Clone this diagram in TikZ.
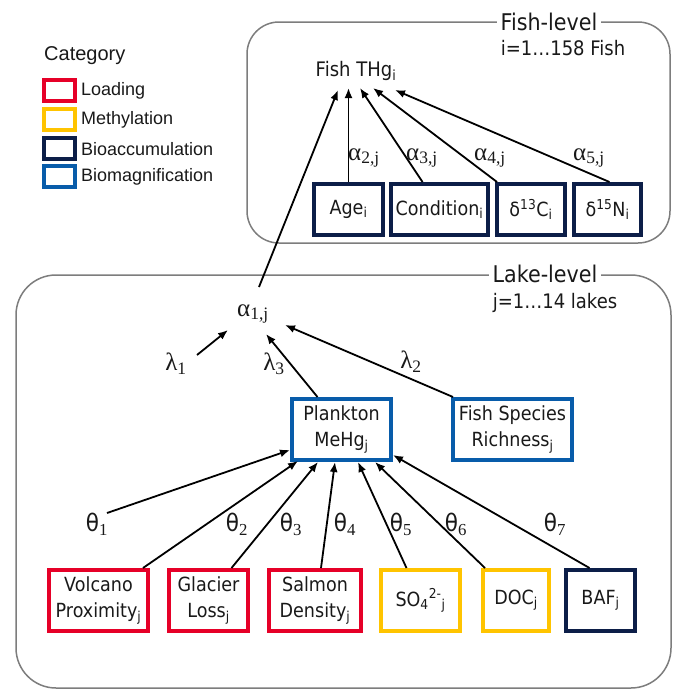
\documentclass[tikz,border=0pt]{standalone}
\usepackage{fontspec}
\setmainfont[FakeStretch=0.9]{DejaVu Sans}
\newfontfamily\legfont{Liberation Sans}
\newfontfamily\grk{Liberation Serif}
\usetikzlibrary{arrows.meta}
\definecolor{cred}{RGB}{230,0,40}
\definecolor{cyel}{RGB}{255,196,0}
\definecolor{cnavy}{RGB}{12,30,72}
\definecolor{cblue}{RGB}{8,92,170}
\definecolor{cgray}{RGB}{125,125,125}
\definecolor{ctext}{RGB}{25,25,25}
\tikzset{
  cont/.style={draw=cgray, line width=1.5pt},
  vbox/.style={draw, line width=4pt, inner sep=0pt, align=center, text=ctext, font=\fontsize{19.5}{26}\selectfont},
  legbox/.style={draw, line width=4pt, minimum width=31pt, minimum height=21pt, inner sep=0pt},
  leglab/.style={anchor=west, inner sep=0pt, text=ctext, font=\legfont\fontsize{18}{18}\selectfont},
  arr/.style={-{Latex[length=10pt,width=8pt]}, line width=1.8pt, black},
  glab/.style={inner sep=0pt, text=ctext, font=\grk\fontsize{25}{25}\selectfont},
  tlab/.style={inner sep=0pt, text=ctext, font=\fontsize{24}{24}\selectfont},
  ttl/.style={fill=white, inner sep=4pt, text=ctext, font=\fontsize{23}{23}\selectfont},
  sub/.style={inner sep=0pt, text=ctext, font=\fontsize{20}{20}\selectfont},
}
\begin{document}
\begin{tikzpicture}[x=1pt,y=-1pt]
\useasboundingbox (0,0) rectangle (678,691);

% legend
\node[anchor=west, inner sep=0pt, text=ctext, font=\legfont\fontsize{20}{20}\selectfont] (cat) at (44,56) {Category};
\node[legbox, draw=cred] (lg1) at (59.5,90.5) {};
\node[legbox, draw=cyel] (lg2) at (59.5,119) {};
\node[legbox, draw=cnavy] (lg3) at (59.5,148) {};
\node[legbox, draw=cblue] (lg4) at (59.5,176.5) {};
\node[leglab] (lt1) at (81,91) {Loading};
\node[leglab] (lt2) at (81,120) {Methylation};
\node[leglab] (lt3) at (81,149) {Bioaccumulation};
\node[leglab] (lt4) at (81,177) {Biomagnification};

% containers
\draw[cont, rounded corners=32pt] (247,22) rectangle (670,243);
\draw[cont, rounded corners=40pt] (16,275) rectangle (671,688);
\node[ttl] (fl) at (549,22) {Fish-level};
\node[ttl] (ll) at (545,274) {Lake-level};
\node[sub] (fi) at (563,48) {i=1\ldots158 Fish};
\node[sub] (lj) at (555,303) {j=1\ldots14 lakes};

% fish level
\node[sub] (thg) at (356,71) {Fish THg\textsubscript{i}};
\node[vbox, draw=cnavy, minimum width=69pt, minimum height=51pt] (age) at (348.5,209.5) {Age\textsubscript{i}};
\node[vbox, draw=cnavy, minimum width=97pt, minimum height=51pt] (cond) at (439.5,209.5) {Condition\textsubscript{i}};
\node[vbox, draw=cnavy, minimum width=68pt, minimum height=51pt] (c13) at (531,209.5) {δ\textsuperscript{13}C\textsubscript{i}};
\node[vbox, draw=cnavy, minimum width=67pt, minimum height=51pt] (n15) at (607.5,209.5) {δ\textsuperscript{15}N\textsubscript{i}};

\coordinate (tA) at (338,90);
\coordinate (tB) at (348.5,88);
\coordinate (tC) at (360,88);
\coordinate (tD) at (373,88);
\coordinate (tE) at (395,90);

\draw[arr] (age.north) -- (tB);
\draw[arr] ([xshift=-17pt]cond.north) -- (tC);
\draw[arr] ([xshift=2pt]c13.north west) -- (tD);
\draw[arr] ([xshift=2pt]n15.north) -- (tE);

\node[glab] (a2) at (364,158) {α\textsubscript{2,j}};
\node[glab] (a3) at (422,158) {α\textsubscript{3,j}};
\node[glab] (a4) at (490,158) {α\textsubscript{4,j}};
\node[glab] (a5) at (589,158) {α\textsubscript{5,j}};

% lake level
\node[glab] (a1) at (253,314) {α\textsubscript{1,j}};
\coordinate (a1s) at (259,287);
\draw[arr] (a1s) -- (tA);

\node[vbox, draw=cblue, minimum width=99pt, minimum height=61pt] (plk) at (341.5,429.5) {Plankton\\MeHg\textsubscript{j}};
\node[vbox, draw=cblue, minimum width=119pt, minimum height=61pt] (fsr) at (512.5,429.5) {Fish Species\\Richness\textsubscript{j}};

\coordinate (l1s) at (197,355);
\coordinate (l1e) at (228,330);
\coordinate (l3e) at (266,334);
\coordinate (l2e) at (285,325);
\draw[arr] (l1s) -- (l1e);
\draw[arr] ([xshift=-24pt]plk.north) -- (l3e);
\draw[arr] ([xshift=2pt]fsr.north west) -- (l2e);
\node[glab] (lam1) at (176,364) {λ\textsubscript{1}};
\node[glab] (lam3) at (274,364) {λ\textsubscript{3}};
\node[glab] (lam2) at (411,362) {λ\textsubscript{2}};

% bottom boxes
\node[vbox, draw=cred, minimum width=99pt, minimum height=61pt] (volc) at (98.5,600.5) {Volcano\\Proximity\textsubscript{j}};
\node[vbox, draw=cred, minimum width=79pt, minimum height=61pt] (glac) at (208.5,600.5) {Glacier\\Loss\textsubscript{j}};
\node[vbox, draw=cred, minimum width=92pt, minimum height=61pt] (salm) at (315,600.5) {Salmon\\Density\textsubscript{j}};
\node[vbox, draw=cyel, minimum width=79pt, minimum height=61pt] (so4) at (420.5,600.5) {SO\textsubscript{4}\textsuperscript{2-}\textsubscript{j}};
\node[vbox, draw=cyel, minimum width=66pt, minimum height=61pt] (doc) at (516,600.5) {DOC\textsubscript{j}};
\node[vbox, draw=cnavy, minimum width=69pt, minimum height=61pt] (baf) at (600.5,600.5) {BAF\textsubscript{j}};

\coordinate (p1) at (290,450);
\coordinate (p2) at (298,461);
\coordinate (p3) at (318,462);
\coordinate (p4) at (335,462);
\coordinate (p5) at (358,462);
\coordinate (p6) at (375,462);
\coordinate (p7) at (393,455);
\coordinate (t1s) at (107,513);

\draw[arr] (t1s) -- (p1);
\draw[arr] ([xshift=-7pt]volc.north east) -- (p2);
\draw[arr] ([xshift=23pt]glac.north) -- (p3);
\draw[arr] ([xshift=6pt]salm.north) -- (p4);
\draw[arr] ([xshift=-14pt]so4.north) -- (p5);
\draw[arr] ([xshift=4pt]doc.north west) -- (p6);
\draw[arr] ([xshift=-11pt]baf.north) -- (p7);

\node[tlab] (th1) at (97,524) {θ\textsubscript{\grk 1}};
\node[tlab] (th2) at (237,524) {θ\textsubscript{\grk 2}};
\node[tlab] (th3) at (291,524) {θ\textsubscript{\grk 3}};
\node[tlab] (th4) at (345,524) {θ\textsubscript{\grk 4}};
\node[tlab] (th5) at (401,524) {θ\textsubscript{\grk 5}};
\node[tlab] (th6) at (456,524) {θ\textsubscript{\grk 6}};
\node[tlab] (th7) at (555,524) {θ\textsubscript{\grk 7}};
\end{tikzpicture}
\end{document}
